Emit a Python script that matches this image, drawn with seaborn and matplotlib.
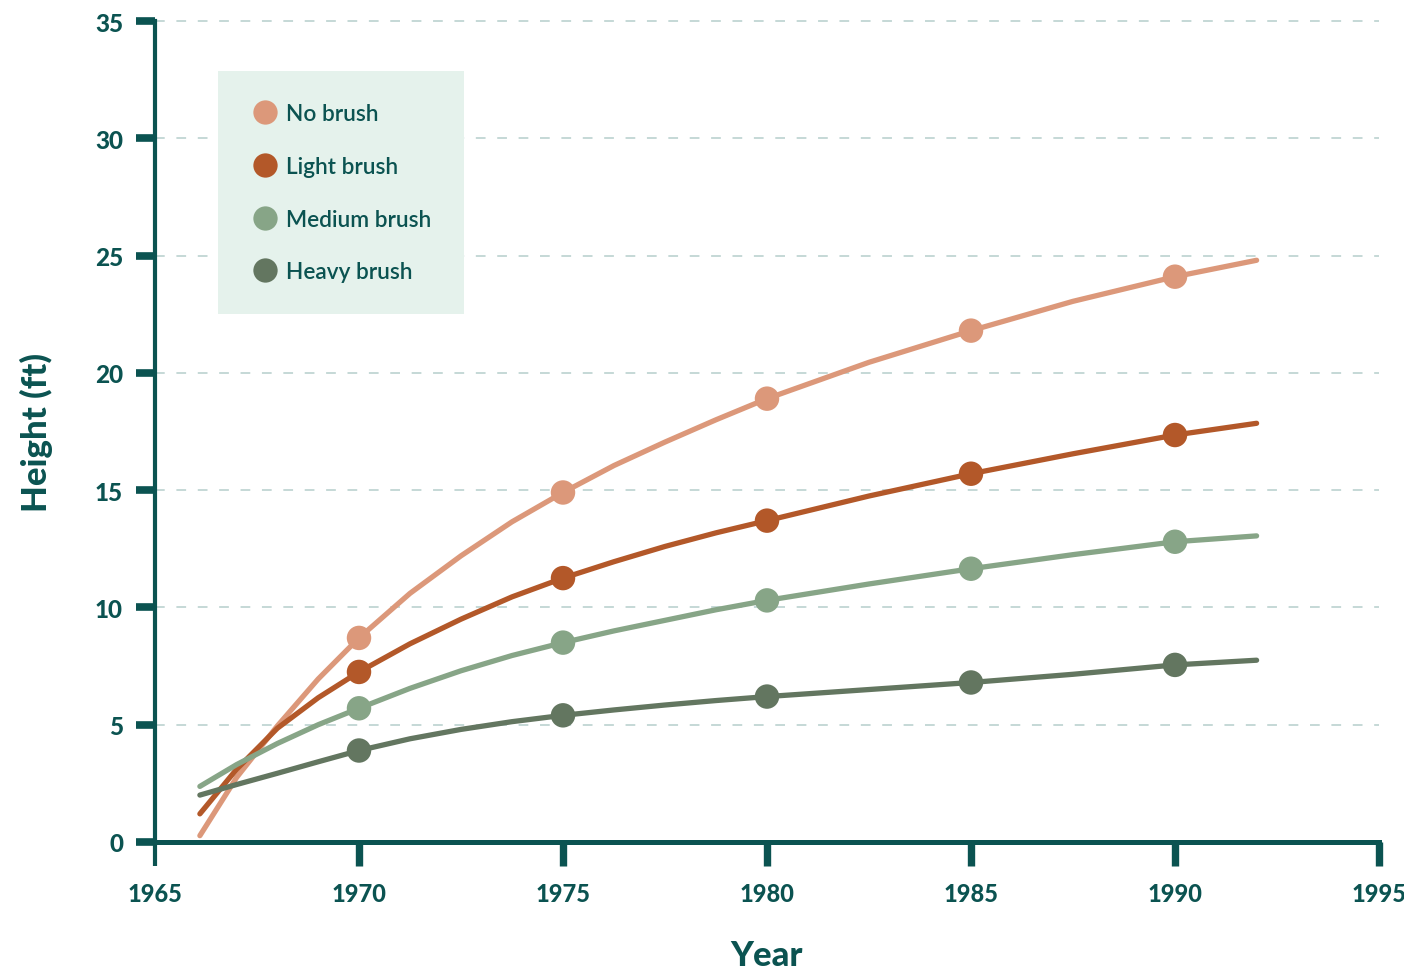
import numpy as np
import pandas as pd
import matplotlib
matplotlib.use('Agg')
import matplotlib.pyplot as plt
import seaborn as sns

# ============================================================
# Data
# ============================================================
series_names = ['No brush', 'Light brush', 'Medium brush', 'Heavy brush']
colors = ['#dc987a', '#b35829', '#87a587', '#637660']

# measured points (markers)
marker_years = [1970, 1975, 1980, 1985, 1990]
no_brush_pts = [8.7, 14.9, 18.9, 21.8, 24.1]
light_brush_pts = [7.25, 11.25, 13.7, 15.7, 17.35]
medium_brush_pts = [5.7, 8.5, 10.3, 11.65, 12.8]
heavy_brush_pts = [3.9, 5.4, 6.2, 6.8, 7.55]

# fitted growth curves
curve_years = [1966.1, 1967, 1968, 1969, 1970, 1971.25, 1972.5, 1973.75,
               1975, 1976.25, 1977.5, 1978.75, 1980, 1982.5, 1985,
               1987.5, 1990, 1992]
no_brush_curve = [0.27, 2.75, 4.95, 6.95, 8.7, 10.6, 12.2, 13.65,
                  14.9, 16.05, 17.05, 18.0, 18.9, 20.45, 21.8,
                  23.05, 24.1, 24.8]
light_brush_curve = [1.2, 3.1, 4.85, 6.15, 7.25, 8.45, 9.5, 10.45,
                     11.25, 11.95, 12.6, 13.18, 13.7, 14.75, 15.7,
                     16.55, 17.35, 17.85]
medium_brush_curve = [2.37, 3.3, 4.2, 5.0, 5.7, 6.55, 7.3, 7.95,
                      8.5, 9.0, 9.45, 9.9, 10.3, 11.0, 11.65,
                      12.25, 12.8, 13.05]
heavy_brush_curve = [2.0, 2.45, 2.93, 3.42, 3.9, 4.4, 4.8, 5.13,
                     5.4, 5.63, 5.84, 6.03, 6.2, 6.5, 6.8,
                     7.15, 7.55, 7.75]

x_ticks = [1965, 1970, 1975, 1980, 1985, 1990, 1995]
y_ticks = [0, 5, 10, 15, 20, 25, 30, 35]

# ============================================================
# Long-form tables
# ============================================================
pts_df = pd.DataFrame({
    'Year': marker_years * 4,
    'Height': no_brush_pts + light_brush_pts + medium_brush_pts + heavy_brush_pts,
    'Treatment': np.repeat(series_names, len(marker_years)),
})
curve_df = pd.DataFrame({
    'Year': curve_years * 4,
    'Height': no_brush_curve + light_brush_curve + medium_brush_curve + heavy_brush_curve,
    'Treatment': np.repeat(series_names, len(curve_years)),
})

# ============================================================
# Style
# ============================================================
sns.set_theme(style='white')
plt.rcParams['font.family'] = ['Lato', 'DejaVu Sans']
plt.rcParams['font.weight'] = 'bold'
TEAL = '#0b5351'
GRID = '#c5d8d6'

fig = plt.figure(figsize=(14.04, 9.70), dpi=100)
ax = fig.add_axes([155 / 1404, 127 / 970, 1224 / 1404, 821 / 970])

sns.lineplot(data=curve_df, x='Year', y='Height', hue='Treatment',
             hue_order=series_names, palette=colors, linewidth=3.8,
             legend=False, ax=ax, zorder=2)
sns.scatterplot(data=pts_df, x='Year', y='Height', hue='Treatment',
                hue_order=series_names, palette=colors, s=310, linewidth=0,
                ax=ax, zorder=3, legend=True)

ax.set_xlim(1965, 1995)
ax.set_ylim(0, 35)
ax.set_xticks(x_ticks)
ax.set_yticks(y_ticks)

# axes and ticks
for side in ['top', 'right']:
    ax.spines[side].set_visible(False)
ax.spines['left'].set_color(TEAL)
ax.spines['left'].set_linewidth(3)
ax.spines['bottom'].set_color(TEAL)
ax.spines['bottom'].set_linewidth(3.6)

ax.tick_params(axis='x', length=17, width=5.3, color=TEAL, pad=12,
               labelsize=17, labelcolor=TEAL, bottom=True)
ax.tick_params(axis='y', length=14, width=5.5, color=TEAL, pad=9,
               labelsize=17.5, labelcolor=TEAL, left=True)
ax.xaxis.get_major_ticks()[0].tick1line.set_markeredgewidth(3)
plt.setp(ax.get_xticklabels() + ax.get_yticklabels(), fontweight='black')

ax.yaxis.grid(True, color=GRID, linestyle=(0, (5, 6)), linewidth=1.4)
ax.xaxis.grid(False)
ax.set_axisbelow(True)
for gl in ax.get_ygridlines():
    gl.set_clip_on(False)

ax.set_xlabel('Year', fontsize=25, fontweight='black', color=TEAL)
ax.set_ylabel('Height (ft)', fontsize=25, fontweight='black', color=TEAL)
ax.xaxis.set_label_coords(0.5, -0.118)
ax.yaxis.set_label_coords(-0.083, 0.5)

# legend
handles, labels = ax.get_legend_handles_labels()
leg = ax.legend(handles, labels, loc='upper left',
                bbox_to_anchor=(63 / 1224, 771 / 821), borderaxespad=0,
                frameon=True, fancybox=False, facecolor='#e5f2ec',
                edgecolor='none', framealpha=1, labelspacing=1.4,
                handlelength=1.35, handletextpad=0.25, borderpad=1.42,
                prop={'size': 16.3, 'weight': 'semibold'}, labelcolor=TEAL)
for h in leg.legend_handles:
    if hasattr(h, 'set_markersize'):
        h.set_markersize(17.5)
    else:
        h.set_sizes([310])

plt.savefig('out.png', dpi=100)
plt.close()
